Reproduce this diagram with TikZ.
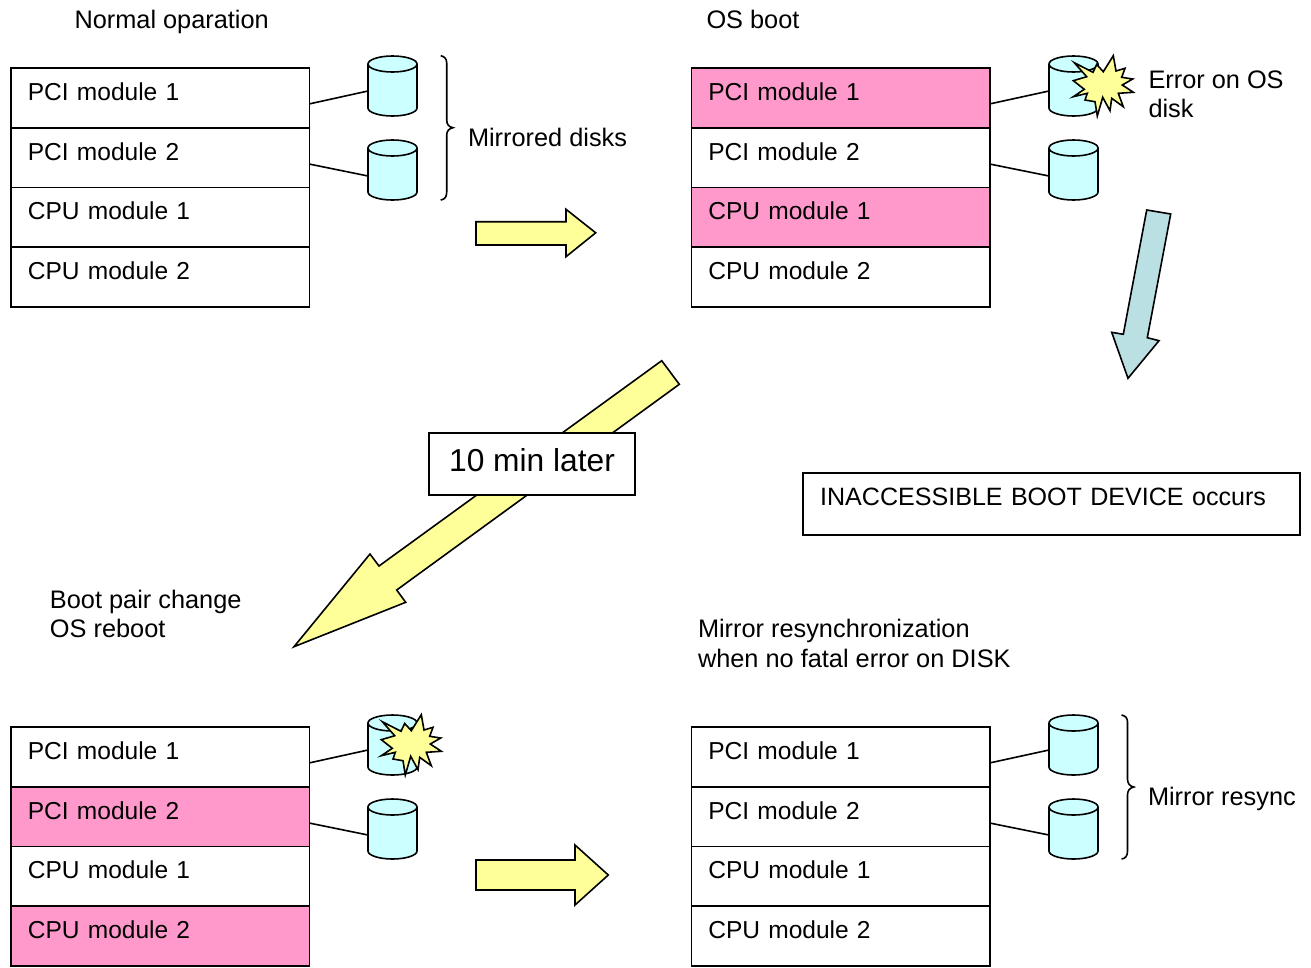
\documentclass[tikz,border=0pt]{standalone}
\usepackage{fontspec}
\setmainfont{Liberation Sans}
\definecolor{pinkfill}{HTML}{FF99CC}
\definecolor{diskfill}{HTML}{CCFFFF}
\definecolor{yellowfill}{HTML}{FFFF99}
\definecolor{bluefill}{HTML}{BBE0E3}
\tikzset{
  stroke/.style={draw=black,line width=1.2pt,line join=miter},
  modbox/.style={stroke,rectangle,anchor=north west,minimum width=223.9pt,minimum height=44.8pt,
    inner xsep=12.1pt,inner ysep=0pt,outer sep=0pt,text width=198.6pt,align=left,
    text height=13.5pt,text depth=9.5pt,font=\fontsize{18.4}{22}\selectfont},
  hot/.style={fill=pinkfill},
  diskzone/.style={rectangle,minimum height=45pt,minimum width=36.75pt,inner sep=0pt,outer sep=0pt},
  diskbody/.style={stroke,fill=diskfill},
  wire/.style={draw=black,line width=1.2pt},
  caption/.style={anchor=base west,inner sep=0pt,outer sep=0pt,align=left,font=\fontsize{19}{22}\selectfont},
  flow/.style={stroke,fill=yellowfill},
  fallarrow/.style={stroke,fill=bluefill},
  burst/.style={stroke,fill=yellowfill},
  bracket/.style={draw=black,line width=1.2pt},
}
\newcommand{\diskat}[3]{%
  \node[diskzone] (#1) at (#2,#3) {};
  \begin{scope}[shift={(#1.center)}]
  \draw[diskbody] (-24.5,-22) .. controls (-24.5,-26.4) and (-13.5,-30) .. (0,-30)
    .. controls (13.5,-30) and (24.5,-26.4) .. (24.5,-22) -- (24.5,22)
    .. controls (24.5,26.4) and (13.5,30) .. (0,30) .. controls (-13.5,30) and (-24.5,26.4) .. (-24.5,22) -- cycle;
  \draw[diskbody] (-24.5,-22) .. controls (-24.5,-17.6) and (-13.5,-14) .. (0,-14)
    .. controls (13.5,-14) and (24.5,-17.6) .. (24.5,-22);
  \end{scope}}
\newcommand{\burstat}[2]{%
  \draw[burst,shift={(#1,#2)}] (24.3,12.7) -- (43,22.3) -- (46.7,14.5) -- (53.3,21.7) -- (63.3,5.7) -- (66,21)
   -- (75,18.3) -- (71.7,27.3) -- (82.7,29) -- (72.3,35) -- (83.3,42.3) -- (68.3,43.3) -- (73.3,56.7)
   -- (61.7,48.3) -- (60,60.7) -- (52.7,47.3) -- (47.3,66) -- (45,51.7) -- (35,50) -- (37.3,43.3)
   -- (23.3,46.7) -- (34.3,39.3) -- (23.3,30.7) -- (36.7,26.7) -- cycle;}
\begin{document}
\begin{tikzpicture}[x=0.75pt,y=-0.75pt]
\useasboundingbox[fill=white] (0,0) rectangle (1311,968);

% top left
\node[modbox] (a1) at (11,68) {PCI module 1};
\node[modbox] (a2) at (11,127.7) {PCI module 2};
\node[modbox] (a3) at (11,187.4) {CPU module 1};
\node[modbox] (a4) at (11,247.1) {CPU module 2};
\diskat{ad1}{392.5}{86}
\diskat{ad2}{392.5}{170}
\draw[wire] ([yshift=-4.5pt]a1.east) -- ([yshift=-3.75pt]ad1.west);
\draw[wire] ([yshift=-4.9pt]a2.east) -- ([yshift=-4.5pt]ad2.west);
\draw[bracket] (440.7,55.7) .. controls (444.7,56.5) and (446.7,59) .. (446.7,63) -- (446.7,120)
  .. controls (446.7,124.5) and (449,127) .. (453,127.7) .. controls (449,128.5) and (446.7,131) .. (446.7,135)
  -- (446.7,192) .. controls (446.7,197) and (444.7,199.5) .. (440.7,200);

% top right
\node[modbox,hot] (b1) at (691.5,68) {PCI module 1};
\node[modbox] (b2) at (691.5,127.7) {PCI module 2};
\node[modbox,hot] (b3) at (691.5,187.4) {CPU module 1};
\node[modbox] (b4) at (691.5,247.1) {CPU module 2};
\diskat{bd1}{1073.5}{86}
\diskat{bd2}{1073.5}{170}
\draw[wire] ([yshift=-4.5pt]b1.east) -- ([yshift=-3.75pt]bd1.west);
\draw[wire] ([yshift=-4.9pt]b2.east) -- ([yshift=-4.5pt]bd2.west);
\burstat{1050}{50}

% bottom left
\node[modbox] (c1) at (11,727) {PCI module 1};
\node[modbox,hot] (c2) at (11,786.7) {PCI module 2};
\node[modbox] (c3) at (11,846.4) {CPU module 1};
\node[modbox,hot] (c4) at (11,906.1) {CPU module 2};
\diskat{cd1}{392.5}{745}
\diskat{cd2}{392.5}{829}
\draw[wire] ([yshift=-4.5pt]c1.east) -- ([yshift=-3.75pt]cd1.west);
\draw[wire] ([yshift=-4.9pt]c2.east) -- ([yshift=-4.5pt]cd2.west);
\burstat{358}{709}

% bottom right
\node[modbox] (e1) at (691.5,727) {PCI module 1};
\node[modbox] (e2) at (691.5,786.7) {PCI module 2};
\node[modbox] (e3) at (691.5,846.4) {CPU module 1};
\node[modbox] (e4) at (691.5,906.1) {CPU module 2};
\diskat{ed1}{1073.5}{745}
\diskat{ed2}{1073.5}{829}
\draw[wire] ([yshift=-4.5pt]e1.east) -- ([yshift=-3.75pt]ed1.west);
\draw[wire] ([yshift=-4.9pt]e2.east) -- ([yshift=-4.5pt]ed2.west);
\draw[bracket] (1121.5,715) .. controls (1125.5,715.8) and (1127.5,718) .. (1127.5,722) -- (1127.5,779)
  .. controls (1127.5,783.5) and (1129.8,786.2) .. (1133.8,787) .. controls (1129.8,787.8) and (1127.5,790.5) .. (1127.5,795)
  -- (1127.5,851) .. controls (1127.5,856) and (1125.5,858.5) .. (1121.5,859);

% block arrows
\draw[flow] (476,221.7) -- (566,221.7) -- (566,209.3) -- (595.7,232.8) -- (566,256.7) -- (566,245) -- (476,245) -- cycle;
\draw[flow] (476,860) -- (575,860) -- (575,845) -- (608.3,875) -- (575,905) -- (575,890) -- (476,890) -- cycle;
\draw[fallarrow] (1146.7,210) -- (1170.7,214) -- (1147.3,337.7) -- (1159,340.7) -- (1128,378.3) -- (1111.7,332.3) -- (1123.3,334.3) -- cycle;
\draw[flow] (661.7,360.7) -- (679.3,384.3) -- (396.7,590) -- (405.7,602.3) -- (294,646.7) -- (370,554) -- (379,566) -- cycle;

% text boxes
\node[stroke,fill=white,rectangle,anchor=north west,minimum width=154.5pt,minimum height=46.5pt,inner sep=0pt,outer sep=0pt,
  text height=17pt,text depth=6pt,font=\fontsize{23.8}{28}\selectfont] (later) at (429,433) {10 min later};
\node[modbox,anchor=north west,minimum width=372.75pt,minimum height=46.5pt,text width=347pt,text depth=12pt,
  font=\fontsize{18.8}{22}\selectfont] (err) at (803,473) {INACCESSIBLE BOOT DEVICE occurs};

% captions
\node[caption] (t1) at (74.5,28) {Normal oparation};
\node[caption] (t2) at (706.5,28) {OS boot};
\node[caption] (t3) at (468,146) {Mirrored disks};
\node[caption] (t4) at (1148.5,117.5) {Error on OS\\disk};
\node[caption] (t5) at (50,637.5) {Boot pair change\\OS reboot};
\node[caption] (t6) at (698,667) {Mirror resynchronization\\when no fatal error on DISK};
\node[caption] (t7) at (1148,805) {Mirror resync};
\end{tikzpicture}
\end{document}
